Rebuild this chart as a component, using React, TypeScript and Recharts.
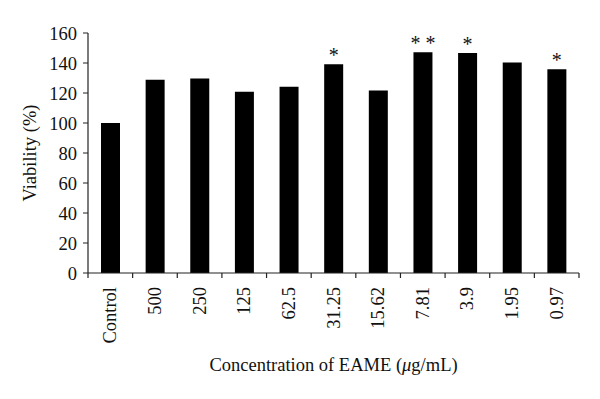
import React from 'react';
import { BarChart, Bar, XAxis, YAxis, LabelList } from 'recharts';

const categories = ['Control', '500', '250', '125', '62.5', '31.25', '15.62', '7.81', '3.9', '1.95', '0.97'];
const viability = [100, 128.8, 129.6, 120.8, 124.2, 139.1, 121.6, 147.2, 146.6, 140.4, 135.9];
const significance = ['', '', '', '', '', '*', '', '* *', '*', '', '*'];
const yTicks = [0, 20, 40, 60, 80, 100, 120, 140, 160];

const data = categories.map((c, i) => ({ conc: c, v: viability[i], sig: significance[i] }));

const FONT = '"Liberation Serif", "DejaVu Serif", serif';
const AX = '#222';

const XTick = (props: any) => {
  const { x, y, payload, index } = props;
  const half = payload && typeof payload.offset === 'number' ? payload.offset : 0;
  const isLast = index === categories.length - 1;
  return (
    <g>
      {half > 0 && (
        <line x1={x - half} x2={x - half} y1={y} y2={y + 5} stroke={AX} strokeWidth={1.2} />
      )}
      {half > 0 && isLast && (
        <line x1={x + half} x2={x + half} y1={y} y2={y + 5} stroke={AX} strokeWidth={1.2} />
      )}
      <text
        x={x}
        y={y}
        transform={`rotate(-90, ${x}, ${y})`}
        textAnchor="end"
        dominantBaseline="central"
        fontFamily={FONT}
        fontSize={18.5}
        fill="#111"
        dx={-14}
      >
        {payload.value}
      </text>
    </g>
  );
};

const SigLabel = (props: any) => {
  const { x, y, width, value } = props;
  if (!value) return null;
  return (
    <text x={x + width / 2} y={y - 2} textAnchor="middle" fontFamily={FONT} fontSize={20} fill="#111">
      {value}
    </text>
  );
};

const XTitle = (props: any) => {
  const { viewBox } = props;
  const cx = viewBox.x + viewBox.width / 2;
  return (
    <text x={cx} y={viewBox.y + 98} textAnchor="middle" fontFamily={FONT} fontSize={18.5} fill="#111">
      Concentration of EAME (<tspan fontStyle="italic">{'\u03bc'}</tspan>g/mL)
    </text>
  );
};

export default function App() {
  return (
    <div style={{ position: 'absolute', left: 0, top: 0, background: '#fff' }}>
      <BarChart width={600} height={399} data={data} margin={{ top: 33, right: 21, bottom: 0, left: 0 }}>
        <XAxis
          dataKey="conc"
          height={126}
          tickLine={false}
          tickSize={0}
          tickMargin={0}
          axisLine={{ stroke: AX, strokeWidth: 1.2 }}
          interval={0}
          tick={<XTick />}
          label={<XTitle />}
        />
        <YAxis
          width={88}
          domain={[0, 160]}
          ticks={yTicks}
          interval={0}
          tickSize={5}
          tickMargin={6}
          tickLine={{ stroke: AX }}
          axisLine={{ stroke: AX, strokeWidth: 1.2 }}
          tick={{ fontFamily: FONT, fontSize: 18.5, fill: '#111' }}
          label={{
            value: 'Viability (%)',
            angle: -90,
            position: 'insideLeft',
            offset: 29,
            style: { textAnchor: 'middle' },
            fontFamily: FONT,
            fontSize: 18.5,
            fill: '#111',
          }}
        />
        <Bar dataKey="v" fill="#000" barSize={19} isAnimationActive={false}>
          <LabelList dataKey="sig" content={<SigLabel />} />
        </Bar>
      </BarChart>
    </div>
  );
}
